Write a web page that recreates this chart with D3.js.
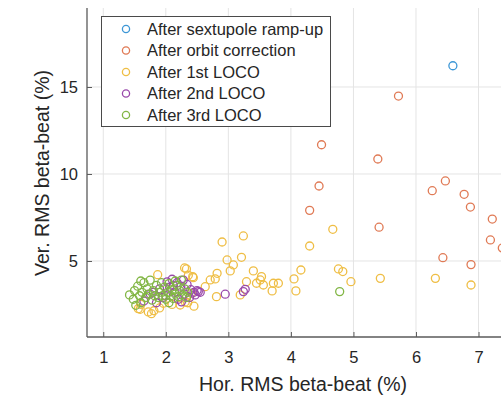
<!DOCTYPE html>
<html>
<head>
<meta charset="utf-8">
<script src="https://cdn.jsdelivr.net/npm/d3@7"></script>
<style>
  html, body { margin: 0; padding: 0; background: #fff; }
  svg { display: block; font-family: "Liberation Sans", Arial, Helvetica, sans-serif; }
</style>
</head>
<body>
<svg id="chart" width="501" height="397"></svg>
<script>
// Horizontal / vertical RMS beta-beat (%) at each correction stage
const seriesNames = [
  "After sextupole ramp-up",
  "After orbit correction",
  "After 1st LOCO",
  "After 2nd LOCO",
  "After 3rd LOCO"
];
const seriesColors = ["#3d97d6", "#e07a55", "#efbe45", "#9a4aab", "#82b645"];

const rampUp = [[6.59, 16.22]];

const orbitCorrection = [
  [5.72, 14.48], [4.49, 11.68], [5.39, 10.86], [4.45, 9.31], [4.30, 7.91],
  [5.41, 6.94], [6.26, 9.04], [6.47, 9.60], [6.77, 8.83], [6.87, 8.10],
  [7.22, 7.41], [7.19, 6.21], [6.43, 5.19], [6.88, 4.79], [7.38, 5.75]
];

const loco1 = [
  [4.67, 6.82], [4.30, 5.86], [2.90, 6.09], [3.24, 6.44], [2.98, 5.06],
  [3.21, 5.21], [3.08, 4.77], [3.03, 4.43], [2.30, 4.60], [2.43, 4.10],
  [1.87, 4.21], [2.82, 4.29], [2.79, 3.97], [2.71, 3.91], [2.63, 3.52],
  [2.44, 4.04], [2.33, 4.54], [2.36, 4.18], [3.40, 4.43], [3.53, 4.10],
  [3.51, 3.91], [3.29, 3.81], [3.45, 3.72], [3.56, 3.62], [3.72, 3.72],
  [3.80, 3.72], [3.70, 3.28], [2.81, 2.95], [3.19, 3.05], [4.16, 4.48],
  [4.05, 3.97], [4.08, 3.28], [4.76, 4.54], [4.83, 4.39], [4.96, 3.81],
  [5.43, 4.00], [6.31, 4.00], [6.88, 3.62], [1.72, 2.07], [1.77, 1.97],
  [1.81, 2.14], [1.56, 2.26], [1.59, 2.22], [2.31, 2.64], [1.96, 2.57],
  [2.23, 2.47], [2.41, 3.14], [1.60, 2.50], [1.90, 2.30], [2.10, 2.50],
  [2.35, 2.60], [2.45, 2.40]
];

const loco2 = [
  [1.65, 2.70], [1.75, 3.10], [1.85, 2.60], [1.90, 3.40], [1.95, 2.90],
  [2.02, 3.80], [2.06, 3.50], [2.10, 3.95], [2.14, 3.20], [2.18, 3.75],
  [2.20, 2.80], [2.24, 3.55], [2.28, 3.90], [2.30, 3.10], [2.34, 3.65],
  [2.38, 2.90], [2.40, 3.35], [2.45, 3.20], [2.50, 3.30], [2.55, 3.20],
  [2.00, 3.00], [1.80, 3.20], [2.25, 2.65], [2.12, 3.60], [2.52, 3.24],
  [2.47, 3.05], [2.95, 3.09], [3.27, 3.37], [3.24, 3.24]
];

const loco3 = [
  [1.42, 3.05], [1.48, 2.80], [1.50, 3.30], [1.55, 3.55], [1.58, 3.00],
  [1.60, 2.60], [1.62, 3.20], [1.65, 3.75], [1.68, 2.90], [1.70, 3.40],
  [1.72, 3.10], [1.75, 3.90], [1.78, 2.75], [1.80, 3.30], [1.82, 3.00],
  [1.85, 3.60], [1.88, 2.90], [1.90, 3.20], [1.52, 2.45], [1.60, 3.85],
  [1.95, 3.00], [1.98, 3.50], [2.00, 2.80], [2.03, 3.20], [2.05, 3.70],
  [2.08, 3.00], [2.10, 3.35], [2.12, 2.85], [2.15, 3.10], [2.18, 3.60],
  [2.20, 2.95], [2.22, 3.30], [2.25, 3.90], [2.27, 3.05], [2.30, 3.40],
  [2.33, 2.90], [2.35, 3.20], [2.15, 3.85], [2.05, 2.60], [1.93, 3.75],
  [4.78, 3.24]
];

const xTicks = [1, 2, 3, 4, 5, 6, 7];
const yTicks = [5, 10, 15];
const xLabel = "Hor. RMS beta-beat (%)";
const yLabel = "Ver. RMS beta-beat (%)";

const allSeries = [rampUp, orbitCorrection, loco1, loco2, loco3];

const svg = d3.select("#chart");
const plot = { left: 87, top: 8, bottom: 337 };

// The axes run on past the right edge of the window
const x = d3.scaleLinear().domain([0.74, 7.5]).range([plot.left, 509.8]);
const y = d3.scaleLinear().domain([0.63, 19.54]).range([plot.bottom, plot.top]);

const axisColor = "#5a5a5a";

// Grid
const grid = svg.append("g");
grid.selectAll("line.gx").data(xTicks).join("line")
  .attr("x1", d => x(d)).attr("x2", d => x(d))
  .attr("y1", plot.top).attr("y2", plot.bottom)
  .attr("stroke", "#e4e4e4").attr("stroke-width", 1);
grid.selectAll("line.gy").data(yTicks).join("line")
  .attr("x1", plot.left).attr("x2", 520)
  .attr("y1", d => y(d)).attr("y2", d => y(d))
  .attr("stroke", "#e4e4e4").attr("stroke-width", 1);

// Axes with inward ticks
const xAxis = d3.axisBottom(x).tickValues(xTicks).tickFormat(d3.format("d"))
  .tickSize(-5).tickPadding(14).tickSizeOuter(0);
const yAxis = d3.axisLeft(y).tickValues(yTicks).tickFormat(d3.format("d"))
  .tickSize(-5).tickPadding(9).tickSizeOuter(0);

const gx = svg.append("g").attr("transform", `translate(0,${plot.bottom})`).call(xAxis);
const gy = svg.append("g").attr("transform", `translate(${plot.left},0)`).call(yAxis);
[gx, gy].forEach(g => {
  g.select(".domain").attr("stroke", axisColor).attr("stroke-width", 1.3);
  g.selectAll(".tick line").attr("stroke", axisColor).attr("stroke-width", 1);
  g.selectAll(".tick text").attr("fill", "#262626").attr("font-size", 16.5)
    .attr("font-family", "Liberation Sans, Arial, sans-serif");
});
gy.select(".domain").attr("d", `M0,${plot.top}V${plot.bottom}`);
gx.select(".domain").attr("d", `M${plot.left},0H520`);

// Axis labels
svg.append("text")
  .attr("x", 303).attr("y", 391)
  .attr("text-anchor", "middle")
  .attr("font-size", 19.5).attr("fill", "#262626")
  .text(xLabel);
svg.append("text")
  .attr("transform", "translate(49,173) rotate(-90)")
  .attr("text-anchor", "middle")
  .attr("font-size", 19.5).attr("fill", "#262626")
  .text(yLabel);

// Markers
const markers = svg.append("g");
allSeries.forEach((pts, i) => {
  markers.append("g").selectAll("circle").data(pts).join("circle")
    .attr("cx", d => x(d[0])).attr("cy", d => y(d[1]))
    .attr("r", 4)
    .attr("fill", "none")
    .attr("stroke", seriesColors[i])
    .attr("stroke-width", 1.3);
});

// Legend
const legend = svg.append("g");
legend.append("rect")
  .attr("x", 101.5).attr("y", 16.5).attr("width", 229).attr("height", 110)
  .attr("fill", "#fff").attr("stroke", "#4a4a4a").attr("stroke-width", 1);
const legRow = d3.scaleLinear().domain([0, 4]).range([29, 115]);
seriesNames.forEach((name, i) => {
  legend.append("circle")
    .attr("cx", 126).attr("cy", legRow(i)).attr("r", 3.6)
    .attr("fill", "none").attr("stroke", seriesColors[i]).attr("stroke-width", 1.3);
  legend.append("text")
    .attr("x", 147).attr("y", legRow(i)).attr("dy", "0.36em")
    .attr("font-size", 16.5).attr("fill", "#262626")
    .text(name);
});
</script>
</body>
</html>
